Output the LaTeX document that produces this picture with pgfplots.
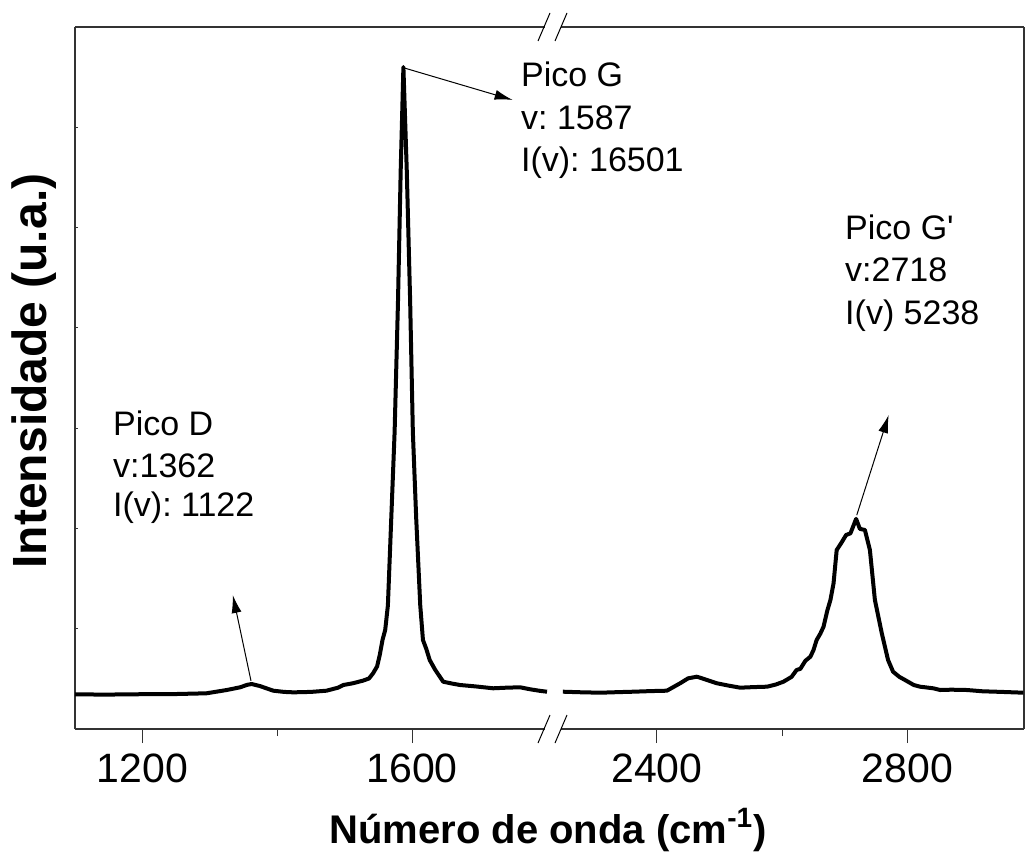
\documentclass[border=0pt]{standalone}
\usepackage{fontspec}
\setmainfont{Liberation Sans}
\newfontfamily\plainsans{Liberation Sans}
\usepackage{pgfplots}
\usepackage{pgfplotstable}
\pgfplotsset{compat=1.18}
\usetikzlibrary{arrows.meta}
\frenchspacing

% Raman spectrum, first window (D and G bands)
\pgfplotstableread{
x y
1100 865
1140 858
1175 862
1210 870
1250 872
1295 890
1325 972
1345 1040
1355 1100
1362 1122
1374 1072
1394 955
1410 925
1424 914
1450 925
1473 955
1490 1030
1498 1097
1512 1140
1527 1205
1536 1260
1542 1388
1548 1560
1552 1850
1556 2219
1560 2468
1564 3079
1569 5248
1574 7417
1579 10670
1583 13924
1587 16501
1592 13924
1597 10670
1601 7417
1606 5248
1612 3079
1616 2219
1621 1994
1626 1720
1634 1480
1641 1304
1646 1179
1660 1130
1671 1097
1695 1060
1720 1015
1740 1030
1760 1040
1775 990
1790 950
1800 930
}\specleft

% Second window (G' band)
\pgfplotstableread{
x y
2250 930
2280 915
2310 905
2340 920
2363 930
2390 945
2416 955
2437 1139
2450 1264
2464 1304
2480 1222
2496 1139
2515 1080
2533 1030
2555 1045
2576 1055
2590 1110
2602 1179
2615 1300
2623 1471
2629 1500
2637 1700
2645 1802
2650 1969
2655 2219
2661 2380
2666 2550
2672 2950
2677 3216
2682 3632
2687 4462
2694 4629
2702 4836
2709 4878
2718 5238
2724 4990
2732 4961
2740 4462
2748 3216
2759 2386
2769 1720
2777 1428
2787 1300
2796 1222
2810 1097
2820 1055
2841 1015
2852 972
2870 980
2895 972
2920 940
2950 925
2985 905
}\specright

\pgfplotsset{
  spec/.style={
    scale only axis, height=351pt, ymin=0, ymax=17500, clip=false,
    axis x line*=box,
    axis line style={line width=0.6pt, black!80},
    xtick align=outside, xtick pos=bottom,
    major tick length=7pt, minor tick length=3.5pt,
    tick style={line width=0.6pt, black!80},
    ytick=\empty,
    tick label style={font=\fontsize{20.5}{24}\selectfont},
    /pgf/number format/assume math mode=true,
    /pgf/number format/set thousands separator={},
    xticklabel style={yshift=-2pt},
  },
  curve/.style={black, line width=2pt, line join=round},
}
\tikzset{
  note/.style={font=\fontsize{17}{20}\selectfont, anchor=base west, inner sep=0pt},
  pointer/.style={line width=0.5pt, -{Latex[length=9pt,width=5pt]}},
}

\begin{document}
\begin{tikzpicture}
\useasboundingbox (0pt,0pt) rectangle (513pt,426pt);

\begin{axis}[spec, at={(37.5pt,61.5pt)}, anchor=south west, width=235pt,
  axis y line*=left, xmin=1100, xmax=1797,
  xtick={1200,1600}, minor xtick={1400}]
  \addplot[curve] table {\specleft};
  \pgfplotsinvokeforeach{2500,5000,7500,10000,12500,15000}{
    \draw[line width=0.6pt, black!80] (axis cs:1100,#1) -- ++(1.5pt,0pt);}
  \draw[pointer] (axis cs:1588,16480) -- (axis cs:1749,15681);
  \node[note] at (axis cs:1761,16005) {Pico G};
  \node[note] at (axis cs:1761,14933) {v: 1587};
  \node[note] at (axis cs:1761,13886) {I(v): 16501};
  \draw[pointer] (axis cs:1361,1200) -- (axis cs:1334,3341);
  \node[note] at (axis cs:1156,7329) {Pico D};
  \node[note] at (axis cs:1156,6282) {v:1362};
  \node[note] at (axis cs:1156,5285) {I(v): 1122};
\end{axis}

\begin{axis}[spec, at={(280.5pt,61.5pt)}, anchor=south west, width=231.5pt,
  axis y line*=right, xmin=2247, xmax=2986,
  xtick={2400,2800}, minor xtick={2600}]
  \addplot[curve] table {\specright};
  \draw[pointer] (axis cs:2719,5330) -- (axis cs:2770,7828);
  \node[note] at (axis cs:2700,12191) {\plainsans Pico G'};
  \node[note] at (axis cs:2700,11144) {v:2718};
  \node[note] at (axis cs:2700,10072) {I(v) 5238};
\end{axis}

% axis break marks
\foreach \cx in {272,280.5}{
  \foreach \cy in {61.5,412.5}{
    \draw[line width=0.5pt, black] (\cx pt-3pt,\cy pt-7pt) -- (\cx pt+3pt,\cy pt+7pt);
  }
}

\node[font=\fontsize{20}{24}\selectfont\bfseries, anchor=base] at (274pt,4.5pt)
  {Número de onda (cm\textsuperscript{-1})};
\node[font=\fontsize{24}{28}\selectfont\bfseries, rotate=90, anchor=base] at (23.5pt,240.5pt)
  {Intensidade (u.a.)};
\end{tikzpicture}
\end{document}
